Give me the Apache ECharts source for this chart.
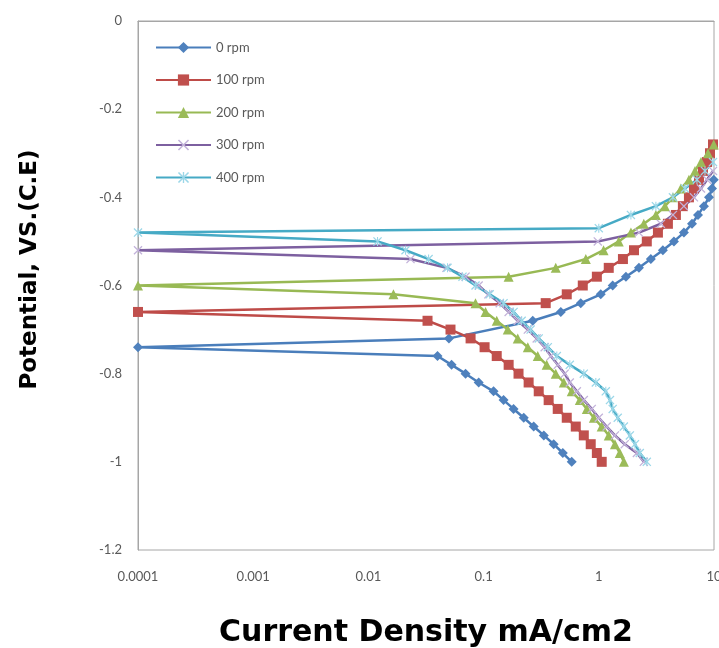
<!DOCTYPE html>
<html>
<head>
<meta charset="utf-8">
<script src="https://cdn.jsdelivr.net/npm/echarts@6/dist/echarts.min.js"></script>
<style>
html,body{margin:0;padding:0;background:#fff;}
#chart{width:719px;height:648px;}
</style>
</head>
<body>
<div id="chart"></div>
<script>
// Tick labels
const xTickLabels = ['0.0001', '0.001', '0.01', '0.1', '1', '10'];
const yTickValues = [0, -0.2, -0.4, -0.6, -0.8, -1, -1.2];
const seriesNames = ['0 rpm', '100 rpm', '200 rpm', '300 rpm', '400 rpm'];

// 0 rpm
const rpm0_current = [0.582,0.487,0.406,0.333,0.272,0.223,0.182,0.149,0.122,0.0906,0.0697,0.0527,0.0398,
  0.0001,
  0.05,0.267,0.468,0.697,1.04,1.32,1.72,2.23,2.83,3.60,4.49,5.48,6.44,7.26,8.18,9.05,9.61,9.95];
const rpm0_potential = [-1.00,-0.98,-0.96,-0.94,-0.92,-0.90,-0.88,-0.86,-0.84,-0.82,-0.80,-0.78,-0.76,
  -0.74,
  -0.72,-0.68,-0.66,-0.64,-0.62,-0.60,-0.58,-0.56,-0.54,-0.52,-0.50,-0.48,-0.46,-0.44,-0.42,-0.40,-0.38,-0.36];

// 100 rpm
const rpm100_current = [1.06,0.962,0.851,0.741,0.631,0.527,0.440,0.367,0.301,0.246,0.201,0.165,0.130,0.102,0.0771,0.0516,0.0326,
  0.0001,
  0.346,0.527,0.726,0.962,1.22,1.62,2.02,2.61,3.26,3.98,4.67,5.37,6.06,6.70,7.41,8.02,8.69,9.23,9.80];
const rpm100_potential = [-1.00,-0.98,-0.96,-0.94,-0.92,-0.90,-0.88,-0.86,-0.84,-0.82,-0.80,-0.78,-0.76,-0.74,-0.72,-0.70,-0.68,
  -0.66,
  -0.64,-0.62,-0.60,-0.58,-0.56,-0.54,-0.52,-0.50,-0.48,-0.46,-0.44,-0.42,-0.40,-0.38,-0.36,-0.34,-0.32,-0.30,-0.28];

// 200 rpm
const rpm200_current = [1.65,1.52,1.38,1.22,1.06,0.906,0.787,0.684,0.582,0.497,0.423,0.353,0.295,0.242,0.198,0.162,0.130,0.104,0.0851,0.0165,
  0.0001,
  0.165,0.423,0.771,1.10,1.49,1.90,2.46,3.13,3.75,4.40,5.16,6.06,6.84,7.71,8.87,9.95];
const rpm200_potential = [-1.00,-0.98,-0.96,-0.94,-0.92,-0.90,-0.88,-0.86,-0.84,-0.82,-0.80,-0.78,-0.76,-0.74,-0.72,-0.70,-0.68,-0.66,-0.64,-0.62,
  -0.60,
  -0.58,-0.56,-0.54,-0.52,-0.50,-0.48,-0.46,-0.44,-0.42,-0.40,-0.38,-0.36,-0.34,-0.32,-0.30,-0.28];

// 300 rpm
const rpm300_current = [2.46,2.14,1.68,1.38,1.17,1.00,0.869,0.741,0.645,0.560,0.506,0.440,0.383,0.339,0.289,0.242,0.198,0.165,0.138,0.110,0.0906,0.0697,0.0476,0.0232,
  0.0001,
  0.98,2.23,3.46,4.40,5.48,6.70,7.71,8.69,9.80];
const rpm300_potential = [-1.00,-0.98,-0.96,-0.94,-0.92,-0.90,-0.88,-0.86,-0.84,-0.82,-0.80,-0.78,-0.76,-0.74,-0.72,-0.70,-0.68,-0.66,-0.64,-0.62,-0.60,-0.58,-0.56,-0.54,
  -0.52,
  -0.50,-0.48,-0.46,-0.44,-0.42,-0.40,-0.38,-0.36,-0.34];

// 400 rpm
const rpm400_current = [2.61,2.27,2.06,1.86,1.65,1.46,1.32,1.25,1.15,0.942,0.741,0.560,0.432,0.361,0.301,0.256,0.214,0.182,0.149,0.113,0.0851,0.0656,0.0486,0.0333,0.0210,0.0120,
  0.0001,
  1.00,1.90,3.13,4.40,5.59,7.11,8.35,9.80];
const rpm400_potential = [-1.00,-0.98,-0.96,-0.94,-0.92,-0.90,-0.88,-0.86,-0.84,-0.82,-0.80,-0.78,-0.76,-0.74,-0.72,-0.70,-0.68,-0.66,-0.64,-0.62,-0.60,-0.58,-0.56,-0.54,-0.52,-0.50,
  -0.48,
  -0.47,-0.44,-0.42,-0.40,-0.38,-0.36,-0.34,-0.32];

function zip(xs, ys) { return xs.map((x, i) => [x, ys[i]]); }

const xMark = 'path://M0,1 L1,0 L5,4 L9,0 L10,1 L6,5 L10,9 L9,10 L5,6 L1,10 L0,9 L4,5 Z';
const starMark = 'path://M0,1 L1,0 L5,4 L9,0 L10,1 L6,5 L10,9 L9,10 L5,6 L1,10 L0,9 L4,5 Z M4.4,0 L5.6,0 L5.6,10 L4.4,10 Z';

const styles = [
  {line:'#4A7EBB', fill:'#4F81BD', symbol:'diamond', size:10},
  {line:'#BE4B48', fill:'#C0504D', symbol:'rect', size:10},
  {line:'#98B954', fill:'#9BBB59', symbol:'triangle', size:10},
  {line:'#7D60A0', fill:'#C3B3DA', symbol:xMark, size:9},
  {line:'#46AAC5', fill:'#9BD7E8', symbol:starMark, size:9}
];
const datasets = [
  zip(rpm0_current, rpm0_potential),
  zip(rpm100_current, rpm100_potential),
  zip(rpm200_current, rpm200_potential),
  zip(rpm300_current, rpm300_potential),
  zip(rpm400_current, rpm400_potential)
];

const chart = echarts.init(document.getElementById('chart'), null, {renderer:'canvas'});
chart.setOption({
  animation: false,
  backgroundColor: '#ffffff',
  grid: {left:138, right:5, top:21, bottom:98, show:true, borderColor:'#a6a6a6', borderWidth:1,
    containLabel:false, outerBoundsMode:'none'},
  legend: {
    orient:'vertical', left:150, top:36, itemGap:19.5, itemWidth:55, itemHeight:14,
    textStyle:{fontFamily:'Lato', fontSize:13, color:'#595959'},
    data: seriesNames
  },
  xAxis: {
    type:'log', logBase:10, min:0.0001, max:10,
    name:'Current Density mA/cm2', nameLocation:'middle', nameGap:68,
    nameTextStyle:{fontFamily:'DejaVu Sans', fontWeight:'bold', fontSize:30, color:'#000'},
    axisLine:{show:true, lineStyle:{color:'#a6a6a6'}},
    axisTick:{show:false},
    splitLine:{show:false},
    axisLabel:{margin:20, fontFamily:'Lato', fontSize:13, color:'#595959',
      formatter: function(v){ const i = Math.round(Math.log10(v)) + 4; return xTickLabels[i] || ''; }}
  },
  yAxis: {
    type:'value', min:-1.2, max:0, interval:0.2,
    name:'Potential, VS.(C.E)', nameLocation:'middle', nameGap:96,
    nameTextStyle:{fontFamily:'DejaVu Sans', fontWeight:'bold', fontSize:23, color:'#000', padding:[0,0,0,32]},
    axisLine:{show:true, lineStyle:{color:'#a6a6a6'}},
    axisTick:{show:false},
    splitLine:{show:false},
    axisLabel:{margin:16, fontFamily:'Lato', fontSize:13, color:'#595959',
      formatter: function(v){ const r = Math.round(v*10)/10; const m = yTickValues.find(t => Math.abs(t-r)<1e-9); return String(m); }}
  },
  series: datasets.map((d, i) => ({
    name: seriesNames[i],
    type:'line',
    data: d,
    symbol: styles[i].symbol,
    symbolSize: styles[i].size,
    showAllSymbol: true,
    clip: false,
    lineStyle:{color:styles[i].line, width:2.5},
    itemStyle:{color:styles[i].fill, borderWidth:0},
    emphasis:{disabled:true}
  }))
});
</script>
</body>
</html>
